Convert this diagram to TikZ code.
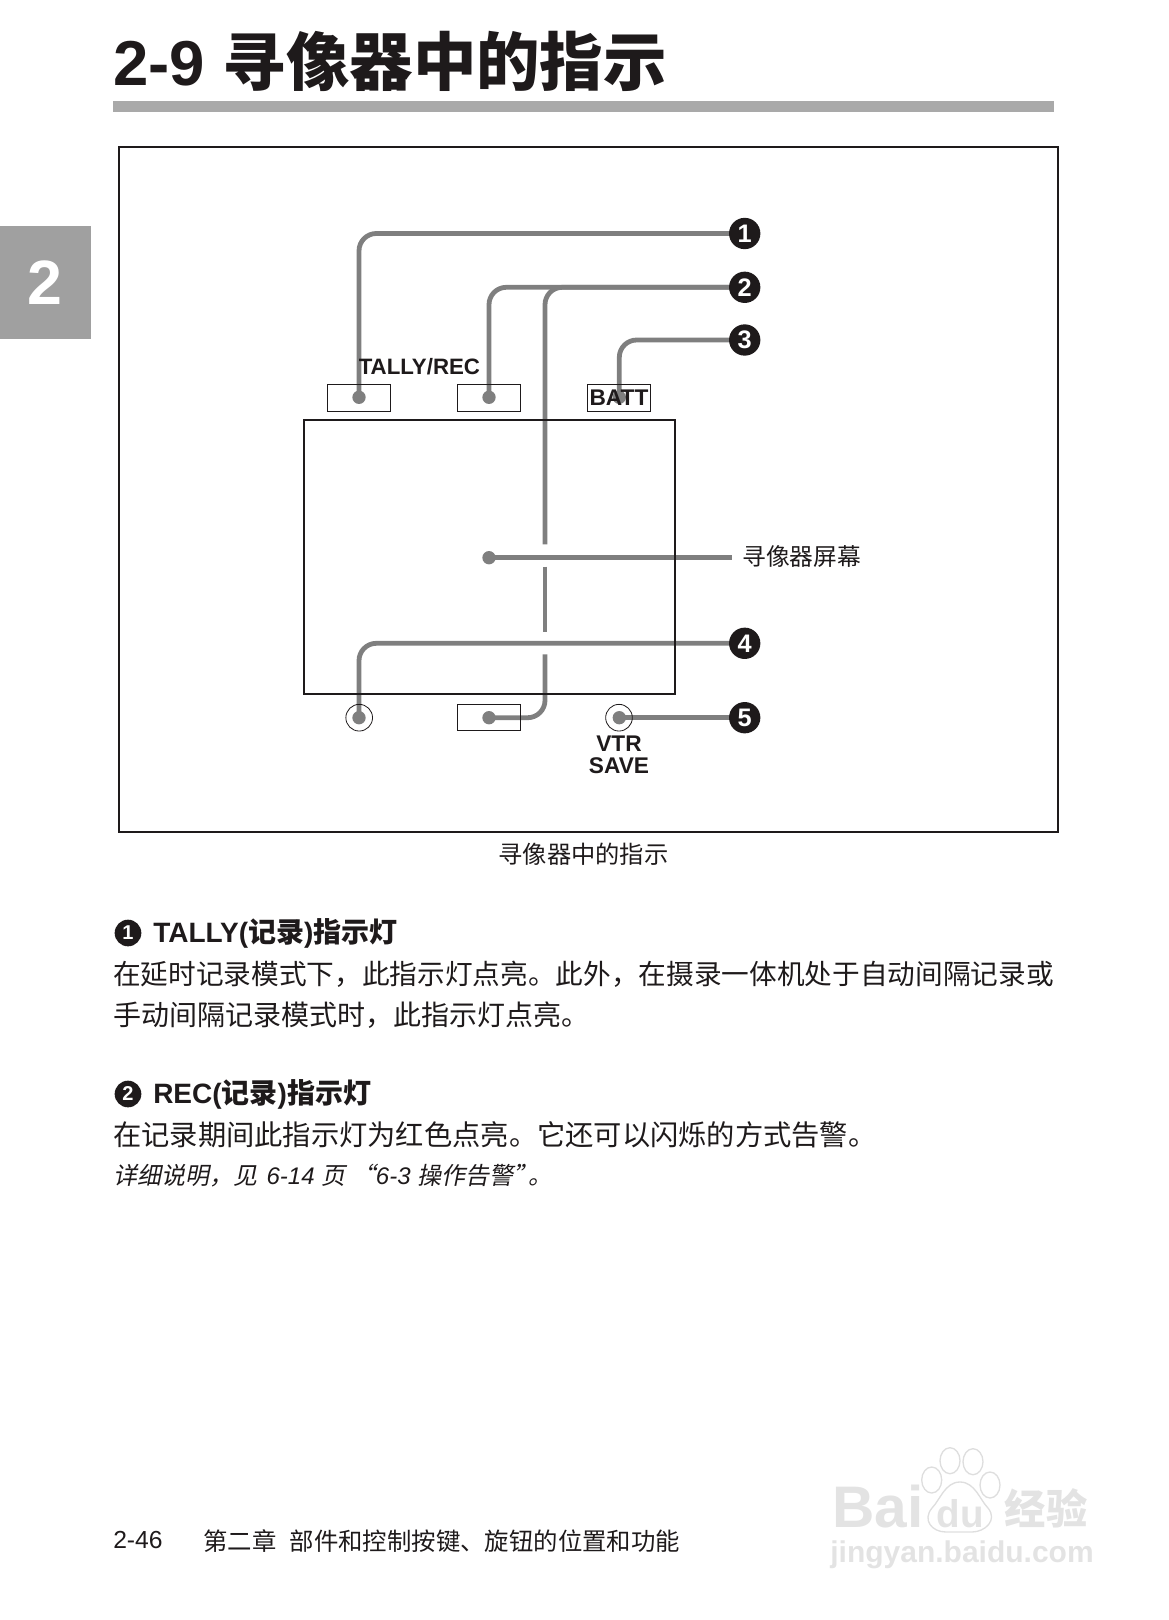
\documentclass[tikz,border=0pt]{standalone}
\usepackage{fontspec}
\setmainfont{Liberation Sans}
\newfontfamily\cjk{Noto Sans CJK SC}
\newfontfamily\cjkit[FakeSlant=0.2]{Noto Sans CJK SC}
\newcommand{\zh}[1]{{\cjk #1}}
\newcommand{\zhit}[1]{{\cjkit #1}}
\newcommand{\fs}[1]{\fontsize{#1}{#1}\selectfont}
\newcommand{\cm}{\char"FF0C\relax}
\usepackage{tikz}
\usetikzlibrary{positioning,backgrounds}

\begin{document}
\begin{tikzpicture}[x=0.75pt,y=-0.75pt,
		leader/.style={draw=leadgray,line width=3.6pt,rounded corners=13pt},
		straightlead/.style={draw=leadgray,line width=3.6pt},
		dotmark/.style={circle,fill=leadgray,inner sep=0pt,minimum size=10pt},
		numdot/.style={circle,fill=numblack,text=white,inner sep=0pt,minimum size=23.5pt,font=\bfseries\fs{19}},
		smallnum/.style={circle,fill=numblack,text=white,inner sep=0pt,minimum size=20pt,font=\bfseries\fs{15}},
		lamp/.style={draw=numblack,line width=0.7pt,inner sep=0pt,minimum width=47.5pt,minimum height=20pt},
		ring/.style={draw=numblack,line width=0.6pt,circle,inner sep=0pt,minimum size=20pt},
		tag/.style={inner sep=0pt,text=numblack,font=\bfseries\fs{17}},
		bodytxt/.style={anchor=west,inner sep=0pt,text=numblack,font=\fs{21}},
		headtxt/.style={anchor=west,inner sep=0pt,text=numblack,font=\bfseries\fs{21}},
		wmark/.style={inner sep=0pt,text=black!11},
		pawline/.style={draw=black!13,line width=1pt}]
	\definecolor{leadgray}{HTML}{7F7F7F}
	\definecolor{numblack}{HTML}{1E1A1B}
	\definecolor{bargray}{HTML}{A9A9A9}
	\definecolor{tabgray}{HTML}{A0A0A0}
	\useasboundingbox (0,0) rectangle (1168,1620);

	% page head
	\node[anchor=base west,inner sep=0pt,text=numblack,font=\bfseries\fs{47.6}] (title) at (113,85) {2-9 \zh{寻像器中的指示}};
	\fill[bargray] (113,101) rectangle (1054,112);
	\fill[tabgray] (0,226) rectangle (91,339);
	\node[text=white,inner sep=0pt,font=\bfseries\fs{47}] (chapter) at (44.5,283) {2};

	% frame and screen
	\draw[numblack,line width=1.4pt] (119,147) rectangle (1058,832);

	\node[numdot] (numa) at (744.7,233.5) {1};
	\node[numdot] (numb) at (744.7,287.3) {2};
	\node[numdot] (numc) at (744.7,340) {3};
	\node[numdot] (numd) at (744.7,643.3) {4};
	\node[numdot] (nume) at (744.7,717.7) {5};

	\node[dotmark] (tally) at (359,397.3) {};
	\node[dotmark] (rec) at (489,397.3) {};
	\node[dotmark] (batt) at (619.3,397.3) {};
	\node[dotmark] (screen) at (489,557.7) {};
	\node[dotmark] (lowleft) at (359,717.7) {};
	\node[dotmark] (lowrec) at (489,717.7) {};
	\node[dotmark] (save) at (619.3,717.7) {};

	\coordinate (scrend) at (731.6,557.7);
	\coordinate (brtop) at (545,544.3);
	\coordinate (brmida) at (545,566.7);
	\coordinate (brmidb) at (545,631.7);
	\coordinate (brlow) at (545,654.3);

	\begin{pgfonlayer}{background}
		\draw[leader] (tally.center) |- (numa.center);
		\draw[leader] (rec.center) |- (numb.center);
		\draw[leader] (brtop) |- (numb.center);
		\draw[leader] (batt.center) |- (numc.center);
		\draw[leader] (lowleft.center) |- (numd.center);
		\draw[leader] (brlow) |- (lowrec.center);
		\draw[straightlead] (brmida) -- (brmidb);
		\draw[straightlead] (screen.center) -- (scrend);
		\draw[straightlead] (save.center) -- (nume.center);
	\end{pgfonlayer}

	\draw[numblack,line width=1.4pt] (304,420) rectangle (675,694.3);
	\node[lamp] (lampa) at (359,397.7) {};
	\node[lamp] (lampb) at (489,397.7) {};
	\node[lamp] (lampc) at (619,397.7) {};
	\node[lamp] (lampd) at (489,717.5) {};
	\node[ring] (ringa) at (359.2,717.7) {};
	\node[ring] (ringb) at (619,717.7) {};

	\node[tag,anchor=west,font=\bfseries\fs{16.7}] (tallytag) at (358.5,367) {TALLY/REC};
	\node[tag] (batttag) at (619,398) {BATT};
	\node[tag] (vtrtag) at (619,743.5) {VTR};
	\node[tag] (savetag) at (619,766) {SAVE};
	\node[anchor=west,inner sep=0pt,text=numblack,font=\fs{17.8}] (scrlabel) at (742,556) {\zh{寻像器屏幕}};
	\node[inner sep=0pt,text=numblack,font=\fs{18.2}] (caption) at (583.5,854) {\zh{寻像器中的指示}};

	% text below the frame
	\node[smallnum] (itema) at (128,933) {1};
	\node[headtxt] (heada) at (153,933) {TALLY(\zh{记录})\zh{指示灯}};
	\node[bodytxt,font=\fs{20.75}] (linea) at (113,974) {\zh{在延时记录模式下\cm 此指示灯点亮。此外\cm 在摄录一体机处于自动间隔记录或}};
	\node[bodytxt] (lineb) at (113,1015) {\zh{手动间隔记录模式时\cm 此指示灯点亮。}};
	\node[smallnum] (itemb) at (128,1094) {2};
	\node[headtxt] (headb) at (153,1094) {REC(\zh{记录})\zh{指示灯}};
	\node[bodytxt,font=\fs{21.2}] (linec) at (113,1135) {\zh{在记录期间此指示灯为红色点亮。它还可以闪烁的方式告警。}};
	\node[bodytxt,font=\itshape\fs{18}] (lined) at (113,1176) {\zhit{详细说明\cm 见}\hspace{2pt} 6-14 \zhit{页} \zhit{“}6-3 \zhit{操作告警”}\hspace{-7pt}\zhit{。}};

	% page foot
	\node[anchor=base west,inner sep=0pt,text=numblack,font=\fs{18.5}] (pageno) at (113,1548) {2-46};
	\node[anchor=base west,inner sep=0pt,text=numblack,font=\fs{18.3}] (chaptitle) at (203,1550) {\zh{第二章\hspace{10pt}部件和控制按键、旋钮的位置和功能}};

	% watermark
	\node[wmark,anchor=west,font=\bfseries\fs{44}] (wmbai) at (832,1507) {Bai};
	\node[wmark,font=\bfseries\fs{29}] (wmdu) at (960,1514) {du};
	\node[wmark,font=\bfseries\fs{31}] (wmjing) at (1046,1508) {\zh{经验}};
	\node[wmark,font=\bfseries\fs{22.5}] (wmurl) at (962,1555) {jingyan.baidu.com};
	\draw[pawline] (931.7,1480) ellipse (10 and 13);
	\draw[pawline] (950,1460.7) ellipse (10 and 13);
	\draw[pawline] (973,1461.7) ellipse (10 and 13);
	\draw[pawline] (990,1485) ellipse (10 and 13);
	\draw[pawline] (960,1482) .. controls (975,1482) and (980,1500) .. (988,1508) .. controls (998,1520) and (985,1532) .. (972,1532) -- (946,1532) .. controls (932,1532) and (922,1520) .. (932,1508) .. controls (940,1500) and (945,1482) .. (960,1482);
\end{tikzpicture}
\end{document}
